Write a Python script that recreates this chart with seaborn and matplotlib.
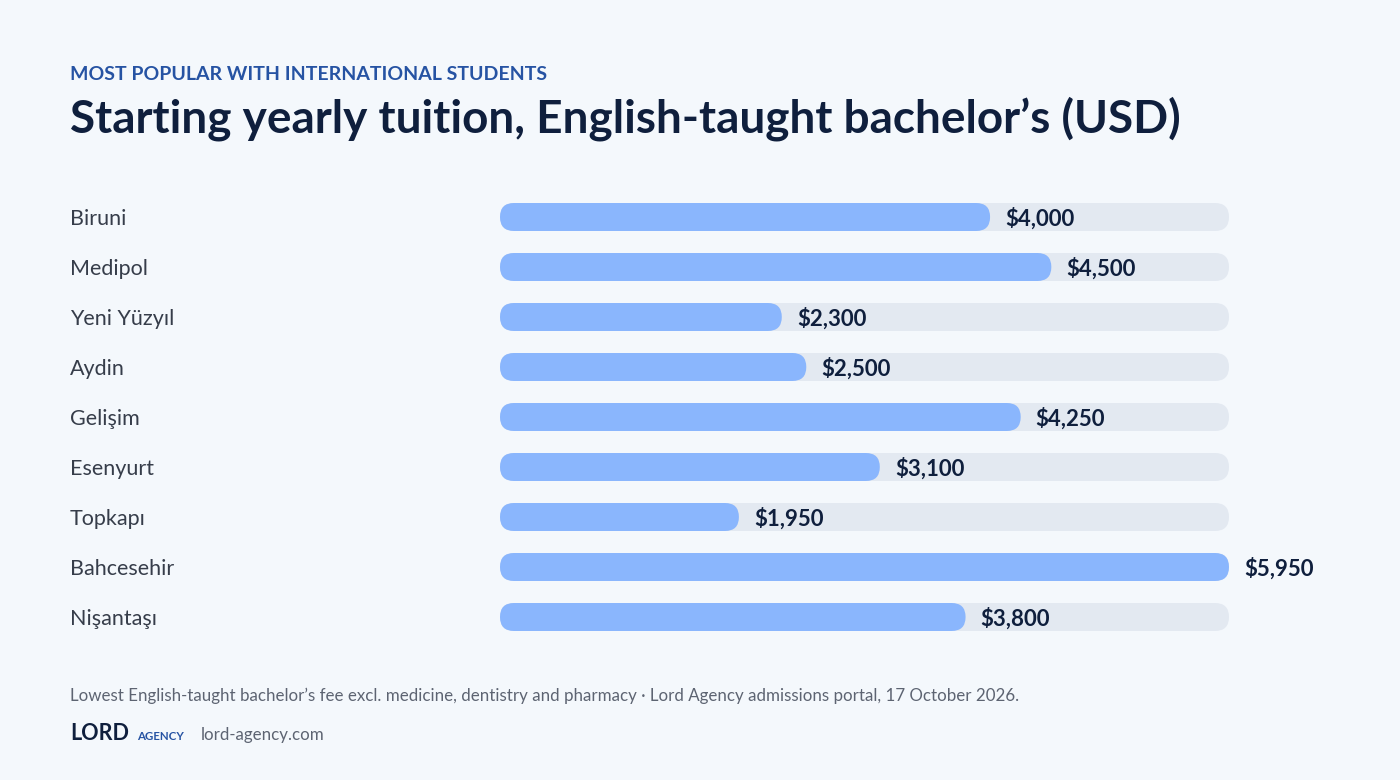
import matplotlib
matplotlib.use("Agg")
import matplotlib.pyplot as plt
import seaborn as sns
import pandas as pd
from matplotlib.patches import FancyBboxPatch

# datos del grafico
universidades = ["Biruni", "Medipol", "Yeni Yüzyıl", "Aydin", "Gelişim",
                 "Esenyurt", "Topkapı", "Bahcesehir", "Nişantaşı"]
matricula = [4000, 4500, 2300, 2500, 4250, 3100, 1950, 5950, 3800]
etiquetas = ["$4,000", "$4,500", "$2,300", "$2,500", "$4,250",
             "$3,100", "$1,950", "$5,950", "$3,800"]

fondo = "#f4f8fc"
azul_barra = "#8ab6fd"
gris_pista = "#e3e9f1"
navy = "#0f1f3d"

sns.set_theme(style="white")
plt.rcParams["font.family"] = ["Lato", "DejaVu Sans"]

df = pd.DataFrame({"uni": universidades, "valor": matricula})
df["pista"] = max(matricula)

fig = plt.figure(figsize=(14, 7.8), dpi=100, facecolor=fondo)
W, H = 1400, 780
x0, x1 = 500, 1229
top, bottom = 192, 642
ax = fig.add_axes([x0 / W, 1 - bottom / H, (x1 - x0) / W, (bottom - top) / H])
ax.set_facecolor(fondo)

alto = 0.56
sns.barplot(data=df, x="pista", y="uni", color=gris_pista, width=alto,
            saturation=1, ax=ax, orient="h")
sns.barplot(data=df, x="valor", y="uni", color=azul_barra, width=alto,
            saturation=1, ax=ax, orient="h")

xmax = max(matricula)
ax.set_xlim(0, xmax)
ax.set_ylim(len(universidades) - 0.5, -0.5)

# barras redondeadas
px_x = xmax / (x1 - x0)
px_y = len(universidades) / (bottom - top)
aspecto = px_y / px_x
radio = 14 * px_x
for p in list(ax.patches):
    xx, yy = p.get_x(), p.get_y()
    w, h = p.get_width(), p.get_height()
    col = p.get_facecolor()
    p.remove()
    ax.add_patch(FancyBboxPatch((xx, yy), w, h,
                                boxstyle=f"round,pad=0,rounding_size={radio}",
                                mutation_aspect=aspecto, facecolor=col,
                                edgecolor="none", linewidth=0))

for i, (v, t) in enumerate(zip(matricula, etiquetas)):
    ax.text(v + 15 * px_x, i + 1.5 * px_y, t, ha="left", va="center", fontsize=16,
            fontweight="bold", color=navy)

ax.set_xticks([])
ax.set_yticks([])
ax.set_xlabel("")
ax.set_ylabel("")
sns.despine(ax=ax, left=True, bottom=True)

for i, u in enumerate(universidades):
    fig.text(70 / W, 1 - (219 + 50 * i) / H, u, ha="left", va="center",
             fontsize=15.5, color="#363d4a")

fig.text(70 / W, 1 - 74 / H, "MOST POPULAR WITH INTERNATIONAL STUDENTS",
         ha="left", va="center", fontsize=14, fontweight="bold", color="#2653a3")
fig.text(70 / W, 1 - 119 / H, "Starting yearly tuition, English-taught bachelor’s (USD)",
         ha="left", va="center", fontsize=33, fontweight="bold", color=navy)
fig.text(70 / W, 1 - 696 / H,
         "Lowest English-taught bachelor’s fee excl. medicine, dentistry and pharmacy · "
         "Lord Agency admissions portal, 17 October 2026.",
         ha="left", va="center", fontsize=12.2, color="#5d6472")
fig.text(70 / W, 1 - 734 / H, "LORD", ha="left", va="center", fontsize=15.5,
         fontweight="bold", color=navy)
fig.text(137 / W, 1 - 737 / H, "AGENCY", ha="left", va="center", fontsize=8.3,
         fontweight="bold", color="#2653a3")
fig.text(201 / W, 1 - 735 / H, "lord-agency.com", ha="left", va="center",
         fontsize=12.2, color="#5d6472")

fig.savefig("out.png", dpi=100, facecolor=fondo)
